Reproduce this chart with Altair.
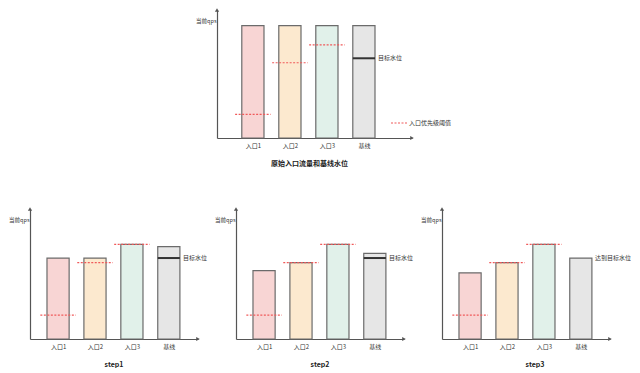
import json
import altair as alt
import pandas as pd

# ---------------- data ----------------
categories = ["入口1", "入口2", "入口3", "基线"]
original_qps = [100, 100, 100, 100]
step1_qps = [71, 71, 83, 81]
step2_qps = [60, 67, 83, 75]
step3_qps = [58, 67, 83, 71]
entry_thresholds = [21, 67, 83]          # 入口1..入口3 优先级阈值
target_level = 71                        # 基线 目标水位
y_label = "当前qps"
threshold_label = "入口优先级阈值"
target_label = "目标水位"
reached_label = "达到目标水位"
panel_titles = ["原始入口流量和基线水位", "step1", "step2", "step3"]
bar_colors = ["#f8d5d4", "#fce9cf", "#e1f1ea", "#e6e6e6"]

FONT = "Noto Sans CJK SC"
YMAX = 114
CATS_JS = json.dumps(categories, ensure_ascii=False)
IDX = f"indexof({CATS_JS}, datum.cat) + 1"
AXIS_COLOR = "#555555"
RED = "#f05a5a"
DASH = [2, 1.5]


def panel(values, title, width, height, xmin, xmax, label_text,
          show_target_line=True, legend=False, title_dx=0):
    xs = alt.Scale(domain=[xmin, xmax], nice=False, zero=False)
    ys = alt.Scale(domain=[0, YMAX], nice=False)
    xaxis = alt.Axis(values=[1, 2, 3, 4], labelExpr=f"{CATS_JS}[datum.value - 1]",
                     ticks=False, grid=False, domainColor=AXIS_COLOR, domainWidth=1.2,
                     labelFont=FONT, labelFontSize=6, labelColor="#333333",
                     labelPadding=4, labelOverlap=False, title=None)
    yaxis = alt.Axis(ticks=False, labels=False, grid=False, domainColor=AXIS_COLOR,
                     domainWidth=1.2, title=y_label, titleAngle=0, titleAlign="right",
                     titleBaseline="middle", titleX=-1, titleY=10, titleFont=FONT,
                     titleFontSize=5.5, titleFontWeight="normal", titleColor="#333333")

    df = pd.DataFrame({"cat": categories, "qps": values})
    bars = alt.Chart(df).transform_calculate(
        i=IDX, x0="datum.i - 0.3", x1="datum.i + 0.3"
    ).mark_rect(stroke="#6b6b6b", strokeWidth=1.2).encode(
        x=alt.X("x0:Q", scale=xs, axis=xaxis),
        x2="x1:Q",
        y=alt.Y("qps:Q", scale=ys, axis=yaxis),
        y2=alt.datum(0),
        fill=alt.Fill("cat:N", scale=alt.Scale(domain=categories, range=bar_colors),
                      legend=None),
    )

    tdf = pd.DataFrame({"cat": categories[:3], "threshold": entry_thresholds,
                        "kind": [threshold_label] * 3})
    if legend:
        color = alt.Color("kind:N", scale=alt.Scale(range=[RED]),
                          legend=alt.Legend(orient="none", legendX=173, legendY=104,
                                            title=None, symbolType="stroke",
                                            symbolSize=256, symbolStrokeWidth=1.2,
                                            symbolStrokeColor=RED,
                                            symbolDash=DASH, labelFont=FONT,
                                            labelFontSize=6, labelColor="#333333",
                                            labelOffset=1, padding=0))
    else:
        color = alt.value(RED)
    rules = alt.Chart(tdf).transform_calculate(
        i=IDX, t0="datum.i - 0.48", t1="datum.i + 0.48"
    ).mark_rule(strokeDash=DASH, strokeWidth=1.2).encode(
        x="t0:Q", x2="t1:Q", y="threshold:Q", color=color
    )

    tg = pd.DataFrame({"cat": [categories[3]], "level": [target_level],
                       "text": [label_text]})
    tg_base = alt.Chart(tg).transform_calculate(
        i=IDX, x0="datum.i - 0.3", x1="datum.i + 0.3"
    )
    label = tg_base.mark_text(align="left", baseline="middle", dx=3, font=FONT,
                              fontSize=6, color="#333333").encode(
        x="x1:Q", y="level:Q", text="text:N"
    )
    layers = [bars]
    if show_target_line:
        layers.append(tg_base.mark_rule(strokeWidth=2, color="#333333").encode(
            x="x0:Q", x2="x1:Q", y="level:Q"))
    layers += [rules, label]

    arr = pd.DataFrame({"ax": [xmin, xmax], "ay": [YMAX, 0],
                        "shape": ["triangle-up", "triangle-right"]})
    arrows = alt.Chart(arr).mark_point(filled=True, size=18, color=AXIS_COLOR,
                                       opacity=1).encode(
        x="ax:Q", y="ay:Q", shape=alt.Shape("shape:N", scale=None)
    )
    layers.append(arrows)

    return alt.layer(*layers).properties(
        width=width, height=height,
        title=alt.TitleParams(title, orient="bottom", font=FONT, fontSize=7,
                              fontWeight="bold", color="#222222", offset=12,
                              dx=title_dx),
    )


top = panel(original_qps, panel_titles[0], 195, 128, 0.03, 5.3, target_label,
            legend=True, title_dx=-5)
s1 = panel(step1_qps, panel_titles[1], 168, 130, 0.24, 4.79, target_label)
s2 = panel(step2_qps, panel_titles[2], 168, 130, 0.24, 4.79, target_label)
s3 = panel(step3_qps, panel_titles[3], 168, 130, 0.24, 4.79, reached_label,
           show_target_line=False, title_dx=9)

spacer = alt.Chart(pd.DataFrame({"v": [0]})).mark_point(opacity=0).encode(
    x=alt.X("v:Q", axis=None), y=alt.Y("v:Q", axis=None)
).properties(width=187, height=128)

top_row = alt.hconcat(spacer, top, spacing=0, bounds="flush").resolve_scale(
    color="independent")
bottom_row = alt.hconcat(s1, s2, s3, spacing=38, bounds="flush")

chart = alt.vconcat(top_row, bottom_row, spacing=40).resolve_scale(
    color="independent"
).properties(padding=0).configure_view(strokeWidth=0)

chart.save("out.html", embed_options={"renderer": "svg", "actions": False})
